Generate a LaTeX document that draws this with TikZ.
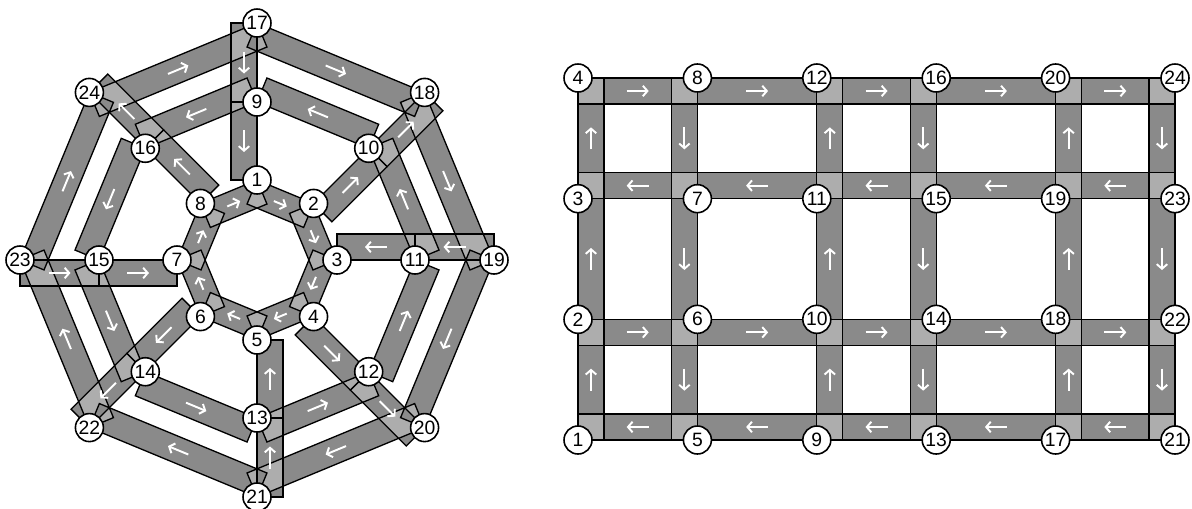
\documentclass[tikz,border=0pt]{standalone}
\usepackage{fontspec}
\setmainfont{Liberation Sans}
\usetikzlibrary{arrows.meta,calc}
\pgfdeclarelayer{bg}
\pgfsetlayers{bg,main}

% one-way links, tail/head; the band sits on the right of travel
\def\innerroads{o1/o2,o2/o3,o3/o4,o4/o5,o5/o6,o6/o7,o7/o8,o8/o1}
\def\roads{o9/o16,o16/o15,o15/o14,o14/o13,o13/o12,o12/o11,o11/o10,o10/o9,
  o17/o18,o18/o19,o19/o20,o20/o21,o21/o22,o22/o23,o23/o24,o24/o17,
  o17/o9,o9/o1,o19/o11,o11/o3,o21/o13,o13/o5,o23/o15,o15/o7,
  o2/o10,o10/o18,o4/o12,o12/o20,o6/o14,o14/o22,o8/o16,o16/o24,
  g1/g2,g2/g3,g3/g4,g9/g10,g10/g11,g11/g12,g17/g18,g18/g19,g19/g20,
  g8/g7,g7/g6,g6/g5,g16/g15,g15/g14,g14/g13,g24/g23,g23/g22,g22/g21,
  g4/g8,g8/g12,g12/g16,g16/g20,g20/g24,
  g23/g19,g19/g15,g15/g11,g11/g7,g7/g3,
  g2/g6,g6/g10,g10/g14,g14/g18,g18/g22,
  g21/g17,g17/g13,g13/g9,g9/g5,g5/g1}
\edef\allroads{\innerroads,\roads}

\begin{document}
\begin{tikzpicture}[x=0.02cm, y=-0.02cm,
  junc/.style={draw, circle, fill=white, line width=0.9pt, minimum size=0.56cm, inner sep=0pt, font=\fontsize{11}{11}\selectfont},
  roadedge/.style={draw=black, line width=0.75pt},
  flow/.style={white, line width=1.1pt, -{Straight Barb[length=2.6pt,width=6pt]}}
]
\useasboundingbox (0,0) rectangle (1192,508);

% octagon: three rings of eight
\foreach \k/\r in {0/80,1/158,2/237}
  \foreach \i in {1,...,8} {
    \pgfmathtruncatemacro\n{8*\k+\i}
    \node[junc] (o\n) at ({257+\r*cos(135-45*\i)},{260-\r*sin(135-45*\i)}) {\n};
  }

% grid: six columns, four rows
\foreach \c in {0,...,5}
  \foreach \r in {0,...,3} {
    \pgfmathtruncatemacro\n{4*\c+\r+1}
    \node[junc] (g\n) at ({578+119.4*\c},{440-120.67*\r}) {\n};
  }

\begin{pgfonlayer}{bg}
  \foreach \a/\b in \allroads
    \fill[black!32] (\a.center) -- (\b.center) -- ($(\b.center)!0.52cm!90:(\a.center)$) -- ($(\a.center)!0.52cm!-90:(\b.center)$) -- cycle;
  % overlaps stay light
  \fill[black!46, even odd rule] \foreach \a/\b in \allroads {
    (\a.center) -- (\b.center) -- ($(\b.center)!0.52cm!90:(\a.center)$) -- ($(\a.center)!0.52cm!-90:(\b.center)$) -- cycle};
  \foreach \a/\b in \allroads
    \draw[roadedge] (\a.center) -- (\b.center) -- ($(\b.center)!0.52cm!90:(\a.center)$) -- ($(\a.center)!0.52cm!-90:(\b.center)$) -- cycle;

  \foreach \a/\b in \innerroads {
    \path ($(\a.center)!0.26cm!-90:(\b.center)$) coordinate (p) ($(\b.center)!0.26cm!90:(\a.center)$) coordinate (q);
    \draw[flow] ($(p)!0.5!(q)!0.14cm!(p)$) -- ($(p)!0.5!(q)!0.14cm!(q)$);
  }
  \foreach \a/\b in \roads {
    \path ($(\a.center)!0.26cm!-90:(\b.center)$) coordinate (p) ($(\b.center)!0.26cm!90:(\a.center)$) coordinate (q);
    \draw[flow] ($(p)!0.5!(q)!0.22cm!(p)$) -- ($(p)!0.5!(q)!0.22cm!(q)$);
  }
\end{pgfonlayer}
\end{tikzpicture}
\end{document}
